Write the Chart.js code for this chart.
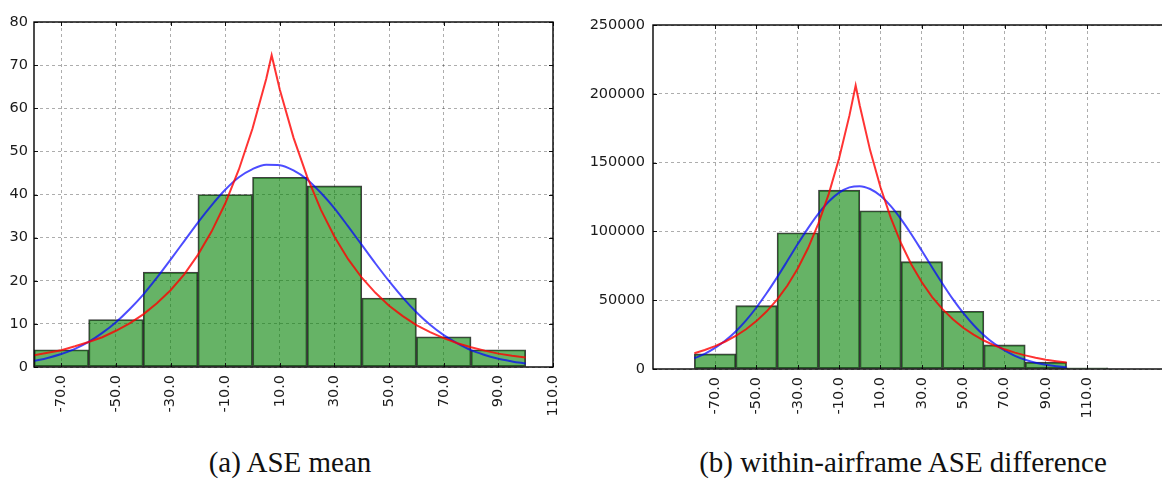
<!DOCTYPE html>
<html>
<head>
<meta charset="utf-8">
<script src="https://cdn.jsdelivr.net/npm/chart.js@4.4.1/dist/chart.umd.min.js"></script>
<style>
  html, body { margin:0; padding:0; width:1162px; height:479px; overflow:hidden; background:#fff; }
  #c1 { position:absolute; left:0; top:0; }
  #c2 { position:absolute; left:570px; top:0; }
  .cap { position:absolute; top:446px; font-family:"Liberation Serif","Times New Roman",serif; font-size:29px; line-height:32px; color:#111; white-space:nowrap; transform:translateX(-50%); }
</style>
</head>
<body>
<canvas id="c1" width="593" height="430"></canvas>
<canvas id="c2" width="640" height="430"></canvas>
<div class="cap" style="left:290px">(a) ASE mean</div>
<div class="cap" style="left:903px">(b) within-airframe ASE difference</div>
<script>
// ---------- data ----------
const xTickValues = [-70, -50, -30, -10, 10, 30, 50, 70, 90, 110];

// (a) ASE mean histogram (bin centres, 20-wide bins)
const meanBinCenters = [-70, -50, -30, -10, 10, 30, 50, 70, 90];
const meanCounts = [4, 11, 22, 40, 44, 42, 16, 7, 4];

// (b) within-airframe ASE difference histogram
const diffBinCenters = [-70, -50, -30, -10, 10, 30, 50, 70, 90, 110];
const diffCounts = [11000, 46000, 99000, 130000, 115000, 78000, 42000, 17500, 5000, 900];

// fitted curves
const fitX = [-80,-75,-70,-65,-60,-55,-50,-45,-40,-35,-30,-25,-20,-15,-10,-5,0,5,10,15,20,25,30,35,40,45,50,55,60,65,70,75,80,85,90,95,100];

const meanBlueY = [1.4,2.1,3.0,4.2,5.8,7.9,10.4,13.4,16.8,20.7,24.9,29.2,33.5,37.5,41.1,44.0,45.9,46.9,46.8,45.6,43.5,40.4,36.8,32.6,28.3,24.0,19.9,16.1,12.7,9.8,7.4,5.5,3.9,2.8,1.9,1.3,0.8];
const meanRedX = [-80,-75,-70,-65,-60,-55,-50,-45,-40,-35,-30,-25,-20,-15,-10,-5,0,5,7,10,15,20,25,30,35,40,45,50,55,60,65,70,75,80,85,90,95,100];
const meanRedY = [2.7,3.3,3.9,4.8,5.8,6.9,8.4,10.1,12.2,14.8,17.8,21.5,26.0,31.4,37.9,45.8,55.3,66.8,72.3,64.3,53.2,44.1,36.5,30.2,25.0,20.7,17.2,14.2,11.8,9.7,8.1,6.7,5.5,4.6,3.8,3.1,2.6,2.2];

const diffBlueY = [7800,11000,15300,20700,27300,35300,44700,55200,66600,78600,90800,102400,112900,121700,128200,132000,132900,130800,125900,118400,108800,97800,85900,73800,62000,50800,40800,32000,24500,18400,13500,9600,6700,4600,3100,2000,1300];
const diffRedX = [-80,-75,-70,-65,-60,-55,-50,-45,-40,-35,-30,-25,-20,-15,-10,-5,-2,0,5,10,15,20,25,30,35,40,45,50,55,60,65,70,75,80,85,90,95,100];
const diffRedY = [11500,13800,16600,20000,24000,28900,34800,41900,50400,60700,73000,87900,105800,127300,153200,184300,206000,191300,158900,132100,109800,91200,75800,63000,52300,43500,36100,30000,25000,20700,17200,14300,11900,9900,8200,6800,5700,4700];

// ---------- rendering ----------
Chart.defaults.font.family = "'DejaVu Sans', 'Bitstream Vera Sans', sans-serif";
Chart.defaults.font.size = 14.5;
Chart.defaults.color = '#1a1a1a';

const pts = (xs, ys) => xs.map((x, i) => ({ x: x, y: ys[i] }));

const framePlugin = {
  id: 'frame',
  afterDraw(chart) {
    const { ctx, chartArea: a, scales } = chart;
    const xs = scales.x, ys = scales.y;
    ctx.save();
    ctx.strokeStyle = '#111';
    ctx.lineWidth = 1;
    ctx.beginPath();
    xs.ticks.forEach(t => {
      const p = Math.round(xs.getPixelForValue(t.value)) + 0.5;
      ctx.moveTo(p, a.bottom); ctx.lineTo(p, a.bottom - 4);
      ctx.moveTo(p, a.top); ctx.lineTo(p, a.top + 4);
    });
    ys.ticks.forEach(t => {
      const p = Math.round(ys.getPixelForValue(t.value)) + 0.5;
      ctx.moveTo(a.left, p); ctx.lineTo(a.left + 4, p);
      ctx.moveTo(a.right, p); ctx.lineTo(a.right - 4, p);
    });
    ctx.stroke();
    ctx.lineWidth = 1.4;
    ctx.strokeStyle = '#000';
    ctx.strokeRect(a.left, a.top, a.right - a.left, a.bottom - a.top);
    ctx.restore();
  }
};

function makeChart(id, cfg) {
  return new Chart(document.getElementById(id), {
    type: 'bar',
    data: {
      datasets: [
        { type: 'line', data: pts(cfg.redX, cfg.redY), borderColor: 'rgba(255,0,0,0.8)', borderWidth: 2,
          pointRadius: 0, tension: 0, order: 1 },
        { type: 'line', data: pts(fitX, cfg.blueY), borderColor: 'rgba(0,0,255,0.7)', borderWidth: 2,
          pointRadius: 0, cubicInterpolationMode: 'monotone', order: 2 },
        { type: 'bar', data: pts(cfg.binX, cfg.counts), backgroundColor: 'rgba(0,128,0,0.6)',
          borderColor: 'rgba(0,0,0,0.75)', borderWidth: 1.2, borderSkipped: false,
          barPercentage: 1, categoryPercentage: 1, order: 3 }
      ]
    },
    options: {
      responsive: false,
      animation: false,
      devicePixelRatio: 1,
      layout: { padding: cfg.padding },
      plugins: { legend: { display: false }, tooltip: { enabled: false } },
      scales: {
        x: {
          type: 'linear', min: cfg.xMin, max: cfg.xMax, offset: false,
          afterBuildTicks: s => { s.ticks = xTickValues.map(v => ({ value: v })); },
          afterFit: s => { s.height = cfg.xHeight; },
          grid: { color: 'rgba(0,0,0,0.32)', lineWidth: 1, drawTicks: false, offset: false },
          border: { display: false, dash: [3, 3] },
          ticks: { autoSkip: false, minRotation: 90, maxRotation: 90, padding: 8,
                   callback: v => Number(v).toFixed(1) }
        },
        y: {
          type: 'linear', min: 0, max: cfg.yMax,
          ticks: { stepSize: cfg.yStep, padding: cfg.yPad, callback: v => String(v) },
          afterFit: s => { s.width = cfg.yWidth; },
          grid: { color: 'rgba(0,0,0,0.32)', lineWidth: 1, drawTicks: false },
          border: { display: false, dash: [3, 3] }
        }
      }
    },
    plugins: [framePlugin]
  });
}

makeChart('c1', {
  redX: meanRedX, redY: meanRedY, blueY: meanBlueY, binX: meanBinCenters, counts: meanCounts,
  xMin: -80, xMax: 110, yMax: 80, yStep: 10, yWidth: 34, yPad: 6, xHeight: 63,
  padding: { left: 0, top: 22, right: 40, bottom: 0 }
});

makeChart('c2', {
  redX: diffRedX, redY: diffRedY, blueY: diffBlueY, binX: diffBinCenters, counts: diffCounts,
  xMin: -100, xMax: 150, yMax: 250000, yStep: 50000, yWidth: 83, yPad: 8, xHeight: 61,
  padding: { left: 0, top: 25, right: 40, bottom: 0 }
});
</script>
</body>
</html>
